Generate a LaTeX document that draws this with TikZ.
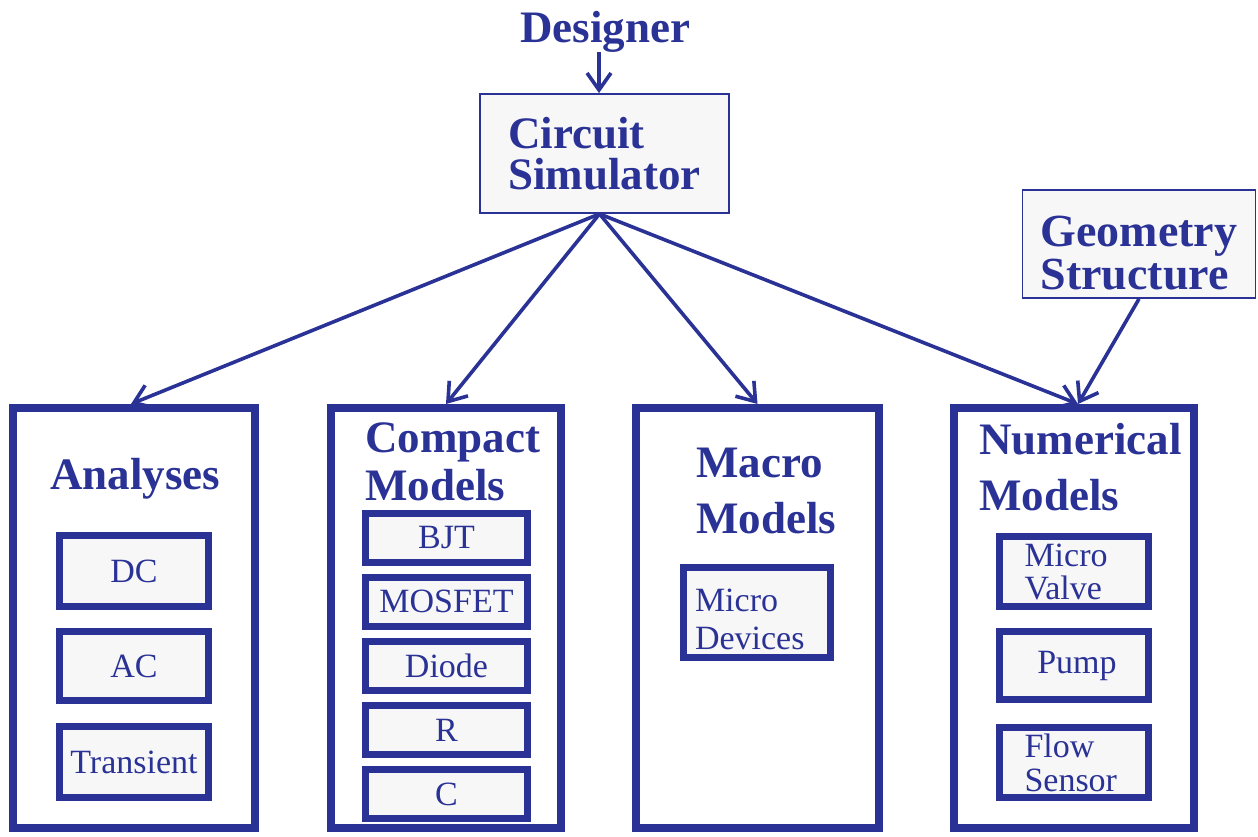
\documentclass[tikz,border=0pt]{standalone}
\usepackage{fontspec}
\setmainfont{Liberation Serif}
\usepackage{tikz}
\usetikzlibrary{arrows.meta}
\definecolor{diagblue}{RGB}{42,50,150}
\newcommand{\myhead}{-{Straight Barb[length=17pt,width=24pt]}}

\begin{document}
\begin{tikzpicture}[x=1pt,y=-1pt,
    bigbox/.style={draw=diagblue,line width=8pt,inner sep=0pt},
    subbox/.style={draw=diagblue,line width=7pt,fill=black!3,text=diagblue,inner sep=0pt,font=\fontsize{34}{34}\selectfont},
    thinbox/.style={draw=diagblue,line width=1.8pt,fill=black!3,text=diagblue,align=left,inner sep=4pt,font=\bfseries\fontsize{45}{41}\selectfont},
    boxtitle/.style={text=diagblue,inner sep=0pt,anchor=base west,text width=220pt,font=\bfseries\fontsize{45}{56}\selectfont},
    conn/.style={diagblue,line width=3.6pt}]
  \useasboundingbox (0,0) rectangle (1258,836);
  \node[text=diagblue,font=\bfseries\fontsize{45}{45}\selectfont,inner sep=0pt,anchor=base] (designer) at (605,42) {Designer};
  \node[thinbox,minimum width=249pt,minimum height=119pt] (sim) at (604.5,153.5) {Circuit\\Simulator};
  \node[thinbox,minimum width=233pt,minimum height=108pt,font=\bfseries\fontsize{46}{43}\selectfont] (geo) at (1139,244) {\rule{0pt}{48pt}Geometry\\Structure};
  % the four model groups
  \node[bigbox,minimum width=242pt,minimum height=420pt] (ana) at (134,618) {};
  \node[bigbox,minimum width=230pt,minimum height=420pt] (cmp) at (446,618) {};
  \node[bigbox,minimum width=243pt,minimum height=420pt] (mac) at (757.5,618) {};
  \node[bigbox,minimum width=240pt,minimum height=420pt] (num) at (1074,618) {};
  \node[boxtitle] (ana-t) at (50,489) {Analyses};
  \node[boxtitle,font=\bfseries\fontsize{45}{48}\selectfont] (cmp-t) at (365,452) {Compact\\Models};
  \node[boxtitle] (mac-t) at (696,477) {Macro\\Models};
  \node[boxtitle] (num-t) at (979,454) {Numerical\\Models};
  % analyses
  \node[subbox,minimum width=149pt,minimum height=71pt] (dc) at (134,571) {DC};
  \node[subbox,minimum width=149pt,minimum height=69pt] (ac) at (134,666) {AC};
  \node[subbox,minimum width=149pt,minimum height=71pt] (tran) at (134,762) {Transient};
  % compact models
  \node[subbox,minimum width=162pt,minimum height=49pt] (bjt) at (446.5,538) {BJT};
  \node[subbox,minimum width=162pt,minimum height=49pt] (mos) at (446.5,601.5) {MOSFET};
  \node[subbox,minimum width=162pt,minimum height=49pt] (diode) at (446.5,665.5) {Diode};
  \node[subbox,minimum width=162pt,minimum height=49pt] (res) at (446.5,730) {R};
  \node[subbox,minimum width=162pt,minimum height=49pt] (cap) at (446.5,794) {C};
  % macro models
  \node[subbox,minimum width=147pt,minimum height=90pt,align=left,text width=124pt,inner xsep=11.5pt,font=\fontsize{34}{38}\selectfont] (dev) at (757,612.5) {\rule{0pt}{37pt}Micro\\Devices};
  % numerical models
  \node[subbox,minimum width=149pt,minimum height=70pt,align=left,text width=99pt,inner xsep=25pt,font=\fontsize{34}{33}\selectfont] (valve) at (1074,571.5) {Micro\\Valve};
  \node[subbox,minimum width=149pt,minimum height=68pt] (pump) at (1074,665.5) {\hspace*{6pt}Pump};
  \node[subbox,minimum width=149pt,minimum height=70pt,align=left,text width=99pt,inner xsep=25pt,font=\fontsize{34}{34}\selectfont] (flow) at (1074,762.5) {Flow\\Sensor};
  % connectors
  \draw[conn,\myhead] ([xshift=-5.5pt]sim.north |- designer.south) -- ([xshift=-5.5pt]sim.north);
  \draw[conn,\myhead] ([xshift=-5pt]sim.south) -- ([xshift=-3pt]ana.north);
  \draw[conn,\myhead] ([xshift=-5pt]sim.south) -- (cmp.north);
  \draw[conn,\myhead] ([xshift=-5pt]sim.south) -- (mac.north);
  \draw[conn,\myhead] ([xshift=-5pt]sim.south) -- ([xshift=4pt]num.north);
  \draw[conn,\myhead] (geo.south) -- ([xshift=4pt]num.north);
\end{tikzpicture}
\end{document}
